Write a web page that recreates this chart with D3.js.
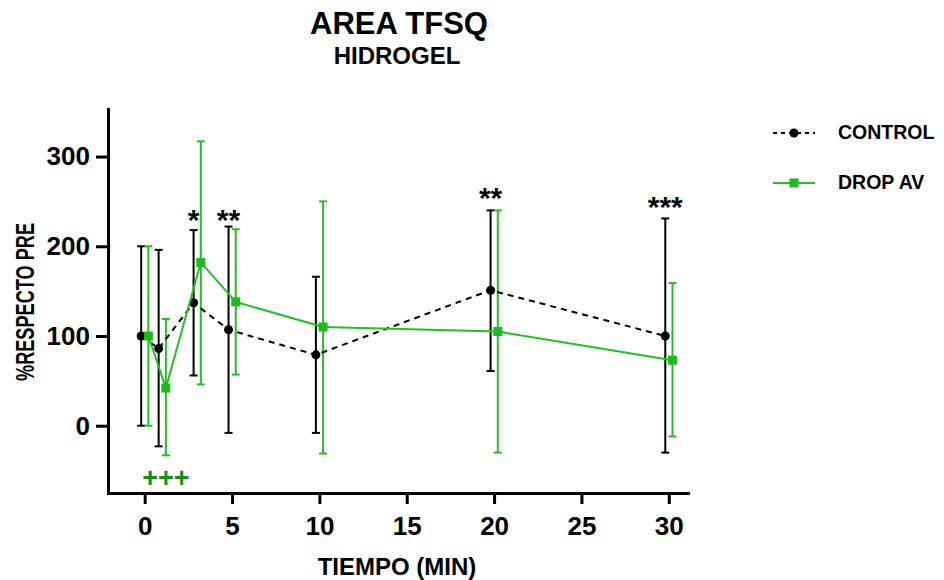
<!DOCTYPE html>
<html>
<head>
<meta charset="utf-8">
<script src="https://cdn.jsdelivr.net/npm/d3@7"></script>
<style>
    body { margin: 0; background: #fff; }
    svg { font-family: Arial, "Liberation Sans", sans-serif; }
</style>
</head>
<body>
<div id="chart"></div>
<script>
// time points (minutes)
var times = [0, 1, 3, 5, 10, 20, 30];

// CONTROL: mean and error bar limits (% respecto pre)
var controlMean = [100, 86, 137, 107, 79, 151, 100];
var controlLow  = [0, -23, 56, -8, -8, 61, -30];
var controlHigh = [200, 196, 218, 222, 166, 240, 231];

// DROP AV: mean and error bar limits
var dropMean = [100, 42, 182, 138, 110, 105, 73];
var dropLow  = [0, -33, 46, 57, -31, -30, -12];
var dropHigh = [200, 119, 317, 219, 250, 240, 159];

// significance marks: [time, label, value]
var starMarks = [[3, "*", 237], [5, "**", 237], [20, "**", 262], [30, "***", 252]];
var plusMarks = [[1, "+++", -58]];

var xTicks = [0, 5, 10, 15, 20, 25, 30];
var yTicks = [0, 100, 200, 300];

var width = 944, height = 580;
var green = "#25bf25", darkGreen = "#1a8c1a";

var svg = d3.select("#chart").append("svg")
    .attr("width", width)
    .attr("height", height);

// scales
var x = d3.scaleLinear().domain([-2.1, 31.1]).range([108, 688]);
var y = d3.scaleLinear().domain([-75, 353]).range([493, 109]);

// the two series; each is drawn slightly apart on x like in prism
var series = [
    { name: "CONTROL", mean: controlMean, low: controlLow, high: controlHigh,
      color: "#000", dash: "6,5", marker: "circle", nudge: -3.5 },
    { name: "DROP AV", mean: dropMean, low: dropLow, high: dropHigh,
      color: green, dash: null, marker: "square", nudge: 3.7 }
];

series.forEach(function (s) {
    s.points = times.map(function (t, i) {
        return { t: t, mean: s.mean[i], low: s.low[i], high: s.high[i] };
    });
});

// titles
svg.append("text")
    .attr("x", 399).attr("y", 34)
    .attr("text-anchor", "middle")
    .attr("font-size", 31).attr("font-weight", "bold")
    .text("AREA TFSQ");

svg.append("text")
    .attr("x", 397).attr("y", 64)
    .attr("text-anchor", "middle")
    .attr("font-size", 24).attr("font-weight", "bold")
    .text("HIDROGEL");

// axes
var xAxis = svg.append("g")
    .attr("transform", "translate(0," + y(-75) + ")")
    .call(d3.axisBottom(x).tickValues(xTicks).tickSize(11).tickSizeOuter(0).tickPadding(13));

var yAxis = svg.append("g")
    .attr("transform", "translate(" + x(-2.1) + ",0)")
    .call(d3.axisLeft(y).tickValues(yTicks).tickSize(12).tickSizeOuter(0).tickPadding(6));

[xAxis, yAxis].forEach(function (ax) {
    ax.select(".domain").attr("stroke", "#000").attr("stroke-width", 3).attr("stroke-linecap", "square");
    ax.selectAll(".tick line").attr("stroke", "#000").attr("stroke-width", 3);
    ax.selectAll(".tick text")
        .attr("fill", "#000")
        .attr("font-size", 26)
        .attr("font-weight", "bold")
        .attr("font-family", "Arial, 'Liberation Sans', sans-serif");
});

// axis titles
svg.append("text")
    .attr("x", 397).attr("y", 575)
    .attr("text-anchor", "middle")
    .attr("font-size", 24).attr("font-weight", "bold")
    .text("TIEMPO (MIN)");

svg.append("text")
    .attr("transform", "translate(34,302) rotate(-90)")
    .attr("text-anchor", "middle")
    .attr("font-size", 26).attr("font-weight", "bold")
    .attr("textLength", 158).attr("lengthAdjust", "spacingAndGlyphs")
    .text("%RESPECTO PRE");

// error bars
series.forEach(function (s) {
    var g = svg.append("g")
        .attr("stroke", s.color)
        .attr("stroke-width", 2)
        .attr("fill", "none");
    var bars = g.selectAll("g").data(s.points).enter().append("g")
        .attr("transform", function (d) { return "translate(" + (x(d.t) + s.nudge) + ",0)"; });
    bars.append("line")
        .attr("x1", 0).attr("x2", 0)
        .attr("y1", function (d) { return y(d.low); })
        .attr("y2", function (d) { return y(d.high); });
    bars.append("line")
        .attr("x1", -4).attr("x2", 4)
        .attr("y1", function (d) { return y(d.high); })
        .attr("y2", function (d) { return y(d.high); });
    bars.append("line")
        .attr("x1", -4).attr("x2", 4)
        .attr("y1", function (d) { return y(d.low); })
        .attr("y2", function (d) { return y(d.low); });
});

// lines and markers
series.forEach(function (s) {
    var line = d3.line()
        .x(function (d) { return x(d.t) + s.nudge; })
        .y(function (d) { return y(d.mean); });

    svg.append("path")
        .datum(s.points)
        .attr("fill", "none")
        .attr("stroke", s.color)
        .attr("stroke-width", 2)
        .attr("stroke-dasharray", s.dash)
        .attr("d", line);

    if (s.marker === "circle") {
        svg.append("g").selectAll("circle")
            .data(s.points).enter().append("circle")
            .attr("cx", function (d) { return x(d.t) + s.nudge; })
            .attr("cy", function (d) { return y(d.mean); })
            .attr("r", 4.5)
            .attr("fill", s.color);
    } else {
        svg.append("g").selectAll("rect")
            .data(s.points).enter().append("rect")
            .attr("x", function (d) { return x(d.t) + s.nudge - 4.5; })
            .attr("y", function (d) { return y(d.mean) - 4.5; })
            .attr("width", 9).attr("height", 9)
            .attr("fill", "#1cba1c");
    }
});

// significance marks
svg.append("g").selectAll("text")
    .data(starMarks).enter().append("text")
    .attr("x", function (d) { return x(d[0]) + series[0].nudge; })
    .attr("y", function (d) { return y(d[2]); })
    .attr("dy", "0.58em")
    .attr("text-anchor", "middle")
    .attr("font-size", 30).attr("font-weight", "bold")
    .text(function (d) { return d[1]; });

svg.append("g").selectAll("text")
    .data(plusMarks).enter().append("text")
    .attr("x", function (d) { return x(d[0]) + series[1].nudge; })
    .attr("y", function (d) { return y(d[2]); })
    .attr("dy", "0.35em")
    .attr("text-anchor", "middle")
    .attr("fill", darkGreen)
    .attr("font-size", 27).attr("font-weight", "bold")
    .text(function (d) { return d[1]; });

// legend
var legend = svg.append("g").selectAll("g")
    .data(series).enter().append("g")
    .attr("transform", function (d, i) { return "translate(773," + (133 + i * 50) + ")"; });

legend.append("line")
    .attr("x1", 0).attr("x2", 42)
    .attr("stroke", function (d) { return d.color; })
    .attr("stroke-width", 2)
    .attr("stroke-dasharray", function (d) { return d.dash ? "4,4" : null; });

legend.each(function (d) {
    var gl = d3.select(this);
    if (d.marker === "circle") {
        gl.append("circle").attr("cx", 21).attr("r", 4.5).attr("fill", d.color);
    } else {
        gl.append("rect").attr("x", 16.5).attr("y", -4.5).attr("width", 9).attr("height", 9).attr("fill", "#1cba1c");
    }
});

legend.append("text")
    .attr("x", 65).attr("y", 6)
    .attr("font-size", 19.5).attr("font-weight", "bold")
    .text(function (d) { return d.name; });
</script>
</body>
</html>
